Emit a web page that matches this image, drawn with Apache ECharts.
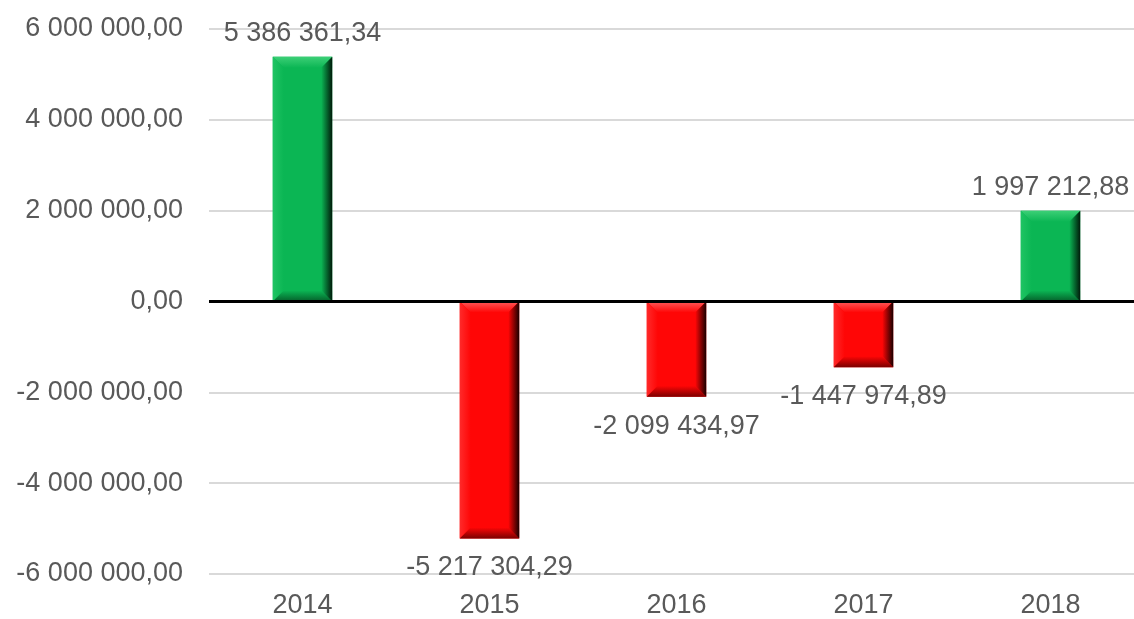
<!DOCTYPE html>
<html>
<head>
<meta charset="utf-8">
<script src="https://cdn.jsdelivr.net/npm/echarts@6/dist/echarts.min.js"></script>
<style>
  html, body { margin: 0; padding: 0; background: #fff; }
  #chart { width: 1134px; height: 619px; }
</style>
</head>
<body>
<div id="chart"></div>
<script>
// 데이터
const years = ['2014', '2015', '2016', '2017', '2018'];
const values = [5386361.34, -5217304.29, -2099434.97, -1447974.89, 1997212.88];
const yTicks = [-6000000, -4000000, -2000000, 0, 2000000, 4000000, 6000000];

const FONT = 'Liberation Sans, Arial, sans-serif';
const TEXT = '#595959';

// 6 000 000,00 형식
const fmt = (v) => {
    const neg = v < 0;
    const parts = Math.abs(v).toFixed(2).split('.');
    const int = parts[0].replace(/\B(?=(\d{3})+(?!\d))/g, ' ');
    return (neg ? '-' : '') + int + ',' + parts[1];
};

// 색상 (양수 초록, 음수 빨강)
const palette = {
    pos: { face: '#0bb654', top: '#3ccf76', left: '#1fc463', bottom: '#055f2a', edge: '#001a0a' },
    neg: { face: '#ff0606', top: '#ff5a5a', left: '#ff2a2a', bottom: '#7a0000', edge: '#1a0000' }
};

const grad = (x, y, x2, y2, from, to) => ({
    type: 'linear', x: x, y: y, x2: x2, y2: y2,
    colorStops: [{ offset: 0, color: from }, { offset: 1, color: to }]
});

const renderBar = (params, api) => {
    const idx = api.value(0);
    const val = api.value(1);
    const band = api.size([1, 0])[0];
    const w = band * 0.318;
    const pEnd = api.coord([idx, val]);
    const pZero = api.coord([idx, 0]);
    const x0 = pEnd[0] - w / 2;
    const x1 = pEnd[0] + w / 2;
    const yT = Math.min(pEnd[1], pZero[1]);
    const yB = Math.max(pEnd[1], pZero[1]);
    const d = Math.min(11, (yB - yT) / 2, w / 2);
    const c = val >= 0 ? palette.pos : palette.neg;

    const poly = (pts, fill) => ({ type: 'polygon', shape: { points: pts }, style: { fill: fill } });

    const children = [
        { type: 'rect', shape: { x: x0, y: yT, width: w, height: yB - yT }, style: { fill: c.face } },
        poly([[x0, yT], [x1, yT], [x1 - d, yT + d], [x0 + d, yT + d]], grad(0, 0, 0, 1, c.top, c.face)),
        poly([[x0, yT], [x0 + d, yT + d], [x0 + d, yB - d], [x0, yB]], grad(0, 0, 1, 0, c.left, c.face)),
        poly([[x0, yB], [x1, yB], [x1 - d, yB - d], [x0 + d, yB - d]], grad(0, 0, 0, 1, c.face, c.bottom)),
        poly([[x1, yT], [x1, yB], [x1 - d, yB - d], [x1 - d, yT + d]], grad(0, 0, 1, 0, c.face, c.edge)),
        {
            type: 'text',
            style: {
                text: fmt(val),
                x: pEnd[0],
                y: val >= 0 ? yT - 10 : yB + 16,
                align: 'center',
                verticalAlign: val >= 0 ? 'bottom' : 'top',
                fill: TEXT,
                font: '27px ' + FONT
            },
            z2: 10
        }
    ];
    return { type: 'group', children: children };
};

const chart = echarts.init(document.getElementById('chart'));
chart.setOption({
    animation: false,
    textStyle: { fontFamily: FONT },
    grid: { left: 209, top: 29, bottom: 45, right: -10, containLabel: false, outerBoundsMode: 'none' },
    xAxis: {
        type: 'category',
        data: years,
        axisLine: { show: false },
        axisTick: { show: false },
        axisLabel: { color: TEXT, fontSize: 27, margin: 18, fontFamily: FONT }
    },
    yAxis: {
        type: 'value',
        min: yTicks[0],
        max: yTicks[yTicks.length - 1],
        interval: 2000000,
        axisLine: { show: false },
        axisTick: { show: false },
        splitLine: { lineStyle: { color: '#d9d9d9', width: 2 } },
        axisLabel: { color: TEXT, fontSize: 27, margin: 26, fontFamily: FONT, formatter: (v) => fmt(v) }
    },
    series: [
        {
            type: 'custom',
            renderItem: renderBar,
            data: values.map((v, i) => [i, v]),
            encode: { x: 0, y: 1 },
            z: 2,
            markLine: {
                silent: true,
                symbol: ['none', 'none'],
                label: { show: false },
                lineStyle: { color: '#000', width: 3, type: 'solid' },
                data: [{ yAxis: 0 }],
                z: 5
            }
        }
    ]
});
</script>
</body>
</html>
